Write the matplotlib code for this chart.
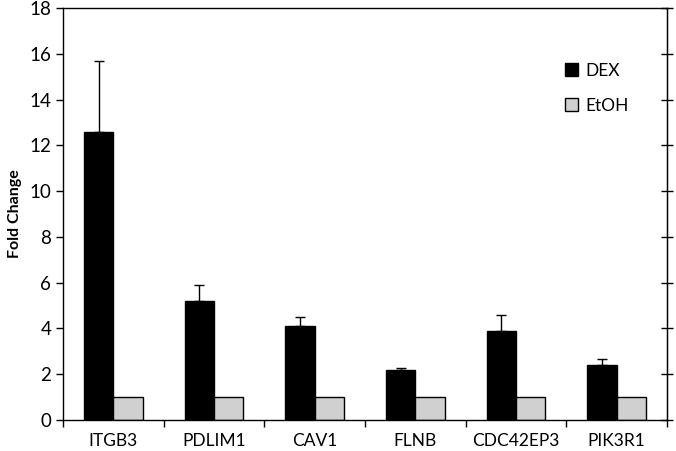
import numpy as np
import matplotlib
matplotlib.use("Agg")
import matplotlib.pyplot as plt

genes = ["ITGB3", "PDLIM1", "CAV1", "FLNB", "CDC42EP3", "PIK3R1"]
dex = [12.6, 5.2, 4.1, 2.2, 3.9, 2.4]
dex_err = [3.1, 0.7, 0.4, 0.07, 0.7, 0.27]
etoh = [1.0, 1.0, 1.0, 1.0, 1.0, 1.0]
yticks = [0, 2, 4, 6, 8, 10, 12, 14, 16, 18]

#_____________________________________________________________________________
def main():

    plt.rcParams["font.family"] = ["Lato", "DejaVu Sans"]

    fig = plt.figure(figsize=(6.76, 4.51), dpi=100)
    ax = fig.add_axes([0.0932, 0.0687, 0.8935, 0.9136])

    x = np.arange(len(genes))
    w = 0.29

    ax.bar(x - w/2, dex, w, color="black", edgecolor="black", linewidth=1, label="DEX", zorder=2)
    ax.errorbar(x - w/2, dex, yerr=[np.zeros(len(dex)), dex_err], fmt="none",
                ecolor="black", elinewidth=1, capsize=3.5, capthick=1, zorder=1)
    ax.bar(x + w/2, etoh, w, color="#d0d0d0", edgecolor="black", linewidth=1, label="EtOH", zorder=2)

    ax.set_xlim(-0.5, len(genes) - 0.5)
    ax.set_ylim(0, 18)
    ax.set_yticks(yticks)
    ax.set_xticks(x)
    ax.set_xticklabels(genes, fontsize=12.5)
    ax.tick_params(axis="x", length=0, pad=9)
    # category separators
    ax.set_xticks(np.arange(len(genes) + 1) - 0.5, minor=True)
    ax.tick_params(axis="x", which="minor", length=5, direction="out", width=1)
    ax.tick_params(axis="y", labelsize=13.5, length=5, width=1, direction="out")

    sec = ax.secondary_yaxis("right")
    sec.set_yticks(yticks)
    sec.tick_params(direction="inout", length=8, width=1, labelright=False)

    for s in ax.spines.values():
        s.set_linewidth(1)
        s.set_color("black")

    ax.set_ylabel("Fold Change", fontsize=11.5, fontweight="bold", labelpad=5)

    ax.legend(loc="upper right", bbox_to_anchor=(0.962, 0.905), frameon=False,
              fontsize=12.5, handlelength=0.75, handleheight=0.75, labelspacing=1.1,
              handletextpad=0.4)

    fig.savefig("out.png", dpi=100)

if __name__ == "__main__":
    main()
